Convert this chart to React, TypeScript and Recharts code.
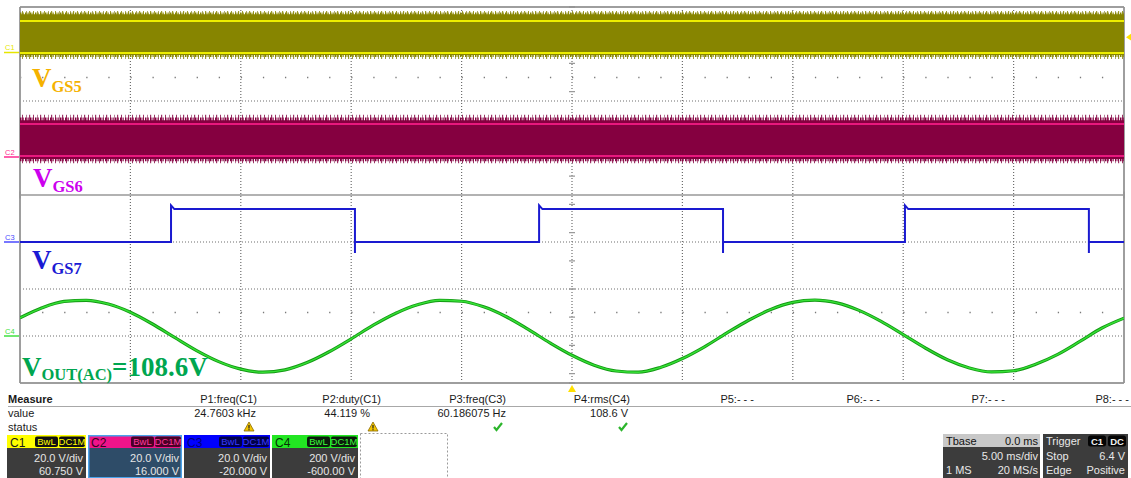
import React from 'react';
import { ComposedChart, XAxis, YAxis, CartesianGrid, Area, Line, ReferenceDot } from 'recharts';

// ---------- time base (ms), 5 ms/div, 10 divisions ----------
const SCREEN_MS = [-25, 25];
const TIME_MS = [-25, -24, -23, -22, -21, -20, -19, -18, -17, -16, -15, -14, -13, -12, -11, -10, -9, -8, -7, -6, -5, -4, -3, -2, -1, 0, 1, 2, 3, 4, 5, 6, 7, 8, 9, 10, 11, 12, 13, 14, 15, 16, 17, 18, 19, 20, 21, 22, 23, 24, 25];
const TIME_DIV_TICKS = [-25, -20, -15, -10, -5, 0, 5, 10, 15, 20, 25];
const DIV_TICKS = [-4, -3, -2, -1, 0, 1, 2, 3, 4];
const DIV_MINOR_TICKS = Array.from({ length: 41 }, (_, k) => -4 + k * 0.2);
const DOT_ROW_DIVS = [-2.5, 2.5];

// ---------- channel settings ----------
const CH_NAMES = ['C1', 'C2', 'C3', 'C4'];
const CH_VDIV = [20, 20, 20, 200];
const CH_OFFSET = [60.75, 16, -20, -600];
const CH_VDIV_LABELS = ['20.0 V/div', '20.0 V/div', '20.0 V/div', '200 V/div'];
const CH_OFFSET_LABELS = ['60.750 V', '16.000 V', '-20.000 V', '-600.00 V'];

// ---------- C1 / C2 : PWM gate signals (envelopes, V) ----------
const C1_NOISE = [-2.9, 17.6];
const C1_FRINGE = [-2.0, 16.9];
const C1_BODY = [-1.2, 16.2];
const C1_RAILS = [-0.3, 13.3];
const C2_NOISE = [-2.5, 18.2];
const C2_FRINGE = [-1.6, 17.0];
const C2_BODY = [-0.7, 15.8];
const C2_RAILS = [0.6, 14.2];

// ---------- C3 : 60 Hz gate signal ----------
const C3_EDGES_MS = [-18.16, -9.83, -1.49, 6.84, 15.08, 23.41];
const C3_EDGE_TYPES = ['rise', 'fall', 'rise', 'fall', 'rise', 'fall'];
const C3_LEVELS = [0, 14];
const C3_OVERSHOOT = 15.6;
const C3_UNDERSHOOT = -4.7;

// ---------- C4 : output AC voltage (V), one reading per ms ----------
const C4_VOLTS = [77, 120, 147, 152, 136, 101, 51, -6, -62, -109, -141, -154, -144, -113, -67, -12, 46, 96, 133, 152, 148, 124, 83, 29, -29, -82, -124, -149, -154, -134, -96, -46, 12, 67, 113, 143, 153, 141, 109, 62, 6, -51, -101, -136, -153, -148, -120, -78, -23, 34, 76];

// ---------- trigger ----------
const TRIGGER_TIME_MS = 0;
const TRIGGER_LEVEL_V = 6.4;

// ---------- measurement panel ----------
const MEAS_HEADERS = ['P1:freq(C1)', 'P2:duty(C1)', 'P3:freq(C3)', 'P4:rms(C4)', 'P5:- - -', 'P6:- - -', 'P7:- - -', 'P8:- - -'];
const MEAS_VALUES = ['24.7603 kHz', '44.119 %', '60.186075 Hz', '108.6 V', '', '', '', ''];
const MEAS_STATUS = ['warn', 'warn', 'ok', 'ok', '', '', '', ''];

const chDomain = (i: number): [number, number] => [-4 * CH_VDIV[i] - CH_OFFSET[i], 4 * CH_VDIV[i] - CH_OFFSET[i]];

const bandData = SCREEN_MS.map((t) => ({
  t,
  c1n: C1_NOISE,
  c1f: C1_FRINGE,
  c1b: C1_BODY,
  c1lo: C1_RAILS[0],
  c1hi: C1_RAILS[1],
  c2n: C2_NOISE,
  c2f: C2_FRINGE,
  c2b: C2_BODY,
  c2lo: C2_RAILS[0],
  c2hi: C2_RAILS[1],
}));

const c3Data: { t: number; v: number }[] = [];
(() => {
  let level = C3_LEVELS[0];
  c3Data.push({ t: SCREEN_MS[0], v: level });
  C3_EDGES_MS.forEach((te, i) => {
    if (C3_EDGE_TYPES[i] === 'rise') {
      c3Data.push({ t: te, v: C3_LEVELS[0] }, { t: te, v: C3_OVERSHOOT }, { t: te + 0.15, v: C3_LEVELS[1] });
      level = C3_LEVELS[1];
    } else {
      c3Data.push({ t: te, v: C3_LEVELS[1] }, { t: te, v: C3_UNDERSHOOT }, { t: te, v: C3_LEVELS[0] });
      level = C3_LEVELS[0];
    }
  });
  c3Data.push({ t: SCREEN_MS[1], v: level });
})();

const c4Data = TIME_MS.map((t, i) => ({ t, v: C4_VOLTS[i] }));

const SANS = '"Liberation Sans", Arial, sans-serif';
const SERIF = '"Liberation Serif", "Times New Roman", serif';

const TimeMarker = (p: any) => (
  <polygon points={`${p.cx - 4},${p.cy + 9} ${p.cx + 4},${p.cy + 9} ${p.cx},${p.cy + 2}`} fill="#ffe000" />
);
const LevelMarker = (p: any) => (
  <polygon points={`${p.cx + 2},${p.cy} ${p.cx + 8},${p.cy - 4} ${p.cx + 8},${p.cy + 4}`} fill="#ffe000" />
);

const Warn = ({ cx, cy }: { cx: number; cy: number }) => (
  <g>
    <polygon points={`${cx - 5},${cy + 4} ${cx + 5},${cy + 4} ${cx},${cy - 5}`} fill="#f2c400" stroke="#8a6a00" strokeWidth={0.8} />
    <rect x={cx - 0.6} y={cy - 2} width={1.2} height={3.5} fill="#222" />
    <rect x={cx - 0.6} y={cy + 2.2} width={1.2} height={1.1} fill="#222" />
  </g>
);
const Check = ({ cx, cy }: { cx: number; cy: number }) => (
  <path d={`M${cx - 4},${cy} L${cx - 1.5},${cy + 3} L${cx + 4},${cy - 4}`} fill="none" stroke="#2cb52c" strokeWidth={2.2} />
);

const CH_BOX = [
  { x: 7, w: 79, head: '#ffff00', headText: '#1a1a1a', badgeBg: '#111111', badgeText: '#ffff00', body: '#3c3c3c', border: '' },
  { x: 88, w: 94, head: '#f0148a', headText: '#3a0020', badgeBg: '#4a0026', badgeText: '#ff3a9e', body: '#2e4c68', border: '#4aa2ea' },
  { x: 184, w: 86, head: '#0000ff', headText: '#00007a', badgeBg: '#000048', badgeText: '#3a3aff', body: '#3c3c3c', border: '' },
  { x: 272, w: 86, head: '#22e622', headText: '#053005', badgeBg: '#0c1c0c', badgeText: '#3cff3c', body: '#3c3c3c', border: '' },
];

const MEAS_COL_END = [257, 381, 506, 630, 754, 880, 1005, 1129];
const MEAS_VAL_END = [256, 370, 506, 628, 0, 0, 0, 0];
const MEAS_STATUS_X = [249, 373, 498, 623, 0, 0, 0, 0];

const Overlay = () => (
  <svg width={1131} height={478} style={{ position: 'absolute', left: 0, top: 0, pointerEvents: 'none' }}>
    {/* channel ground markers */}
    <g fontFamily={SANS} fontSize={7.5}>
      <text x={5} y={50} fill="#e6e600">C1</text>
      <line x1={4} x2={19} y1={52.5} y2={52.5} stroke="#e6e600" strokeWidth={1.5} />
      <text x={5} y={154.5} fill="#ff2a90">C2</text>
      <line x1={4} x2={19} y1={157} y2={157} stroke="#ff2a90" strokeWidth={1.5} />
      <text x={5} y={239.5} fill="#4a4aff">C3</text>
      <line x1={4} x2={19} y1={242} y2={242} stroke="#4a4aff" strokeWidth={1.5} />
      <text x={5} y={333.5} fill="#40e040">C4</text>
      <line x1={4} x2={19} y1={336} y2={336} stroke="#40e040" strokeWidth={1.5} />
    </g>

    {/* trace labels */}
    <g fontFamily={SERIF} fontWeight={700}>
      <text x={32} y={87} fontSize={27} fill="#f5b200">V<tspan fontSize={16.5} dy={5}>GS5</tspan></text>
      <text x={33} y={187} fontSize={27} fill="#cc00ee">V<tspan fontSize={16.5} dy={5}>GS6</tspan></text>
      <text x={32} y={269} fontSize={27} fill="#1a1ad4">V<tspan fontSize={16.5} dy={5}>GS7</tspan></text>
      <text x={22} y={376} fontSize={27} fill="#00a650">V<tspan fontSize={16.5} dy={4}>OUT(AC)</tspan><tspan fontSize={27} dy={-4}>=108.6V</tspan></text>
    </g>

    {/* measurement table */}
    <g fontFamily={SANS} fontSize={11} fill="#1a1a1a">
      <text x={8} y={403} fontWeight={700}>Measure</text>
      <line x1={8} x2={1131} y1={406.5} y2={406.5} stroke="#a8a8a8" strokeWidth={1} />
      <text x={8} y={417}>value</text>
      <text x={8} y={431}>status</text>
      {MEAS_HEADERS.map((h, i) => (
        <text key={h} x={MEAS_COL_END[i]} y={403} textAnchor="end">{h}</text>
      ))}
      {MEAS_VALUES.map((v, i) => v ? (
        <text key={'v' + i} x={MEAS_VAL_END[i]} y={417} textAnchor="end">{v}</text>
      ) : null)}
    </g>
    {MEAS_STATUS.map((s, i) => s === 'warn' ? <Warn key={'s' + i} cx={MEAS_STATUS_X[i]} cy={427} /> : s === 'ok' ? <Check key={'s' + i} cx={MEAS_STATUS_X[i]} cy={427} /> : null)}

    {/* channel boxes */}
    {CH_BOX.map((b, i) => (
      <g key={CH_NAMES[i]} fontFamily={SANS}>
        <rect x={b.x} y={435} width={b.w} height={13} fill={b.head} />
        <rect x={b.x} y={448} width={b.w} height={30} fill={b.body} />
        {b.border ? <rect x={b.x + 0.75} y={435.75} width={b.w - 1.5} height={42} fill="none" stroke={b.border} strokeWidth={1.5} /> : null}
        <text x={b.x + 3} y={446.5} fontSize={12} fill={b.headText}>{CH_NAMES[i]}</text>
        <rect x={b.x + b.w - 51} y={436.5} width={23} height={10.5} rx={2} fill={b.badgeBg} />
        <text x={b.x + b.w - 39.5} y={445} fontSize={9.5} fill={b.badgeText} textAnchor="middle">BwL</text>
        <rect x={b.x + b.w - 27} y={436.5} width={26} height={10.5} rx={2} fill={b.badgeBg} />
        <text x={b.x + b.w - 14} y={445} fontSize={9.5} fill={b.badgeText} textAnchor="middle">DC1M</text>
        <text x={b.x + b.w - 3} y={461.5} fontSize={11} fill="#e6e6e6" textAnchor="end">{CH_VDIV_LABELS[i]}</text>
        <text x={b.x + b.w - 3} y={475} fontSize={11} fill="#e6e6e6" textAnchor="end">{CH_OFFSET_LABELS[i]}</text>
      </g>
    ))}
    <rect x={360.5} y={433.5} width={87} height={46} fill="none" stroke="#9a9a9a" strokeDasharray="2 2" />

    {/* timebase box */}
    <g fontFamily={SANS} fontSize={11}>
      <rect x={943} y={434} width={97} height={13} fill="#c8c8c8" />
      <rect x={943} y={447} width={97} height={31} fill="#3c3c3c" />
      <text x={946} y={445} fill="#111">Tbase</text>
      <text x={1038} y={445} fill="#111" textAnchor="end">0.0 ms</text>
      <text x={1038} y={460} fill="#e8e8e8" textAnchor="end">5.00 ms/div</text>
      <text x={946} y={474} fill="#e8e8e8">1 MS</text>
      <text x={1038} y={474} fill="#e8e8e8" textAnchor="end">20 MS/s</text>

      <rect x={1043} y={434} width={85} height={44} fill="#3c3c3c" />
      <text x={1046} y={445} fill="#e8e8e8">Trigger</text>
      <rect x={1088} y={435.5} width={18} height={11} rx={2.5} fill="#050505" />
      <text x={1097} y={444.5} fontSize={9.5} fill="#f0f0f0" textAnchor="middle" fontWeight={700}>C1</text>
      <rect x={1108} y={435.5} width={18} height={11} rx={2.5} fill="#050505" />
      <text x={1117} y={444.5} fontSize={9.5} fill="#f0f0f0" textAnchor="middle" fontWeight={700}>DC</text>
      <text x={1046} y={460} fill="#e8e8e8">Stop</text>
      <text x={1125} y={460} fill="#e8e8e8" textAnchor="end">6.4 V</text>
      <text x={1046} y={474} fill="#e8e8e8">Edge</text>
      <text x={1125} y={474} fill="#e8e8e8" textAnchor="end">Positive</text>
    </g>
  </svg>
);

export default function App() {
  return (
    <div style={{ position: 'absolute', left: 0, top: 0, width: 1131, height: 478, background: '#ffffff', overflow: 'hidden' }}>
      <ComposedChart width={1131} height={392} margin={{ top: 7, right: 7, bottom: 9, left: 20 }}>
        <defs>
          <pattern id="c1Sparse" patternUnits="userSpaceOnUse" width={11} height={8}>
            <rect x={0} y={0} width={1} height={8} fill="#878500" />
            <rect x={4} y={0} width={1} height={8} fill="#96944a" />
            <rect x={7} y={0} width={1.2} height={8} fill="#878500" />
          </pattern>
          <pattern id="c1Dense" patternUnits="userSpaceOnUse" width={5} height={8}>
            <rect x={0} y={0} width={1.5} height={8} fill="#878500" />
            <rect x={2.5} y={0} width={1.2} height={8} fill="#878500" />
          </pattern>
          <pattern id="c2Sparse" patternUnits="userSpaceOnUse" width={11} height={8}>
            <rect x={0} y={0} width={1} height={8} fill="#850040" />
            <rect x={4} y={0} width={1} height={8} fill="#a85a80" />
            <rect x={7} y={0} width={1.2} height={8} fill="#850040" />
          </pattern>
          <pattern id="c2Dense" patternUnits="userSpaceOnUse" width={5} height={8}>
            <rect x={0} y={0} width={1.5} height={8} fill="#850040" />
            <rect x={2.5} y={0} width={1.2} height={8} fill="#850040" />
          </pattern>
        </defs>
        <XAxis xAxisId="t" dataKey="t" type="number" domain={SCREEN_MS} ticks={TIME_DIV_TICKS} allowDataOverflow hide />
        <XAxis xAxisId="xEdge" type="number" domain={SCREEN_MS} ticks={SCREEN_MS} allowDataOverflow hide />
        <XAxis xAxisId="xCenter" type="number" domain={SCREEN_MS} ticks={[TRIGGER_TIME_MS]} allowDataOverflow hide />
        <XAxis xAxisId="xMinor" type="number" domain={SCREEN_MS} ticks={TIME_MS} allowDataOverflow hide />

        <YAxis yAxisId="div" type="number" domain={[-4, 4]} ticks={DIV_TICKS} allowDataOverflow hide />
        <YAxis yAxisId="yEdge" type="number" domain={[-4, 4]} ticks={[-4, 4]} allowDataOverflow hide />
        <YAxis yAxisId="yCenter" type="number" domain={[-4, 4]} ticks={[0]} allowDataOverflow hide />
        <YAxis yAxisId="yMinor" type="number" domain={[-4, 4]} ticks={DIV_MINOR_TICKS} allowDataOverflow hide />
        <YAxis yAxisId="yDots" type="number" domain={[-4, 4]} ticks={DOT_ROW_DIVS} allowDataOverflow hide />
        <YAxis yAxisId="c1" type="number" domain={chDomain(0)} allowDataOverflow hide />
        <YAxis yAxisId="c2" type="number" domain={chDomain(1)} allowDataOverflow hide />
        <YAxis yAxisId="c3" type="number" domain={chDomain(2)} allowDataOverflow hide />
        <YAxis yAxisId="c4" type="number" domain={chDomain(3)} allowDataOverflow hide />

        {/* graticule */}
        <CartesianGrid xAxisId="t" yAxisId="div" stroke="#6e6e6e" strokeWidth={1.2} strokeDasharray="1 2" />
        <CartesianGrid xAxisId="t" yAxisId="yDots" vertical={false} stroke="#7a7a7a" strokeWidth={1.5} strokeDasharray="1.3 20.78" />
        <CartesianGrid xAxisId="xCenter" yAxisId="yCenter" stroke="#b2b2b2" strokeWidth={2} />
        <CartesianGrid xAxisId="xMinor" yAxisId="div" horizontal={false} stroke="#9a9a9a" strokeWidth={1.3} strokeDasharray="0 184.5 7 1000" />
        <CartesianGrid xAxisId="t" yAxisId="yMinor" vertical={false} stroke="#9a9a9a" strokeWidth={1.3} strokeDasharray="0 549 6 1000" />
        <CartesianGrid xAxisId="xEdge" yAxisId="yEdge" stroke="#8a8a8a" strokeWidth={1} />

        {/* C1 */}
        <Area data={bandData} xAxisId="t" yAxisId="c1" dataKey="c1n" type="linear" fill="url(#c1Sparse)" fillOpacity={0.8} stroke="none" isAnimationActive={false} />
        <Area data={bandData} xAxisId="t" yAxisId="c1" dataKey="c1f" type="linear" fill="url(#c1Dense)" fillOpacity={1} stroke="none" isAnimationActive={false} />
        <Area data={bandData} xAxisId="t" yAxisId="c1" dataKey="c1b" type="linear" fill="#878500" fillOpacity={1} stroke="none" isAnimationActive={false} />
        <Line data={bandData} xAxisId="t" yAxisId="c1" dataKey="c1hi" type="linear" stroke="#eeee00" strokeWidth={2} dot={false} isAnimationActive={false} />
        <Line data={bandData} xAxisId="t" yAxisId="c1" dataKey="c1lo" type="linear" stroke="#eeee00" strokeWidth={2} dot={false} isAnimationActive={false} />

        {/* C2 */}
        <Area data={bandData} xAxisId="t" yAxisId="c2" dataKey="c2n" type="linear" fill="url(#c2Sparse)" fillOpacity={0.8} stroke="none" isAnimationActive={false} />
        <Area data={bandData} xAxisId="t" yAxisId="c2" dataKey="c2f" type="linear" fill="url(#c2Dense)" fillOpacity={1} stroke="none" isAnimationActive={false} />
        <Area data={bandData} xAxisId="t" yAxisId="c2" dataKey="c2b" type="linear" fill="#850040" fillOpacity={1} stroke="none" isAnimationActive={false} />
        <Line data={bandData} xAxisId="t" yAxisId="c2" dataKey="c2hi" type="linear" stroke="#e8187e" strokeWidth={2} dot={false} isAnimationActive={false} />
        <Line data={bandData} xAxisId="t" yAxisId="c2" dataKey="c2lo" type="linear" stroke="#e8187e" strokeWidth={2} dot={false} isAnimationActive={false} />

        {/* C3 */}
        <Line data={c3Data} xAxisId="t" yAxisId="c3" dataKey="v" type="linear" stroke="#1a1ad0" strokeWidth={2} dot={false} isAnimationActive={false} />

        {/* C4 */}
        <Line data={c4Data} xAxisId="t" yAxisId="c4" dataKey="v" type="monotone" stroke="#139a13" strokeWidth={3.2} dot={false} isAnimationActive={false} />
        <Line data={c4Data} xAxisId="t" yAxisId="c4" dataKey="v" type="monotone" stroke="#36e036" strokeWidth={1.4} dot={false} isAnimationActive={false} />

        {/* trigger markers */}
        <ReferenceDot xAxisId="t" yAxisId="div" x={TRIGGER_TIME_MS} y={-4} r={4} shape={TimeMarker} ifOverflow="visible" />
        <ReferenceDot xAxisId="t" yAxisId="c1" x={SCREEN_MS[1]} y={TRIGGER_LEVEL_V} r={4} shape={LevelMarker} ifOverflow="visible" />
      </ComposedChart>
      <Overlay />
    </div>
  );
}
